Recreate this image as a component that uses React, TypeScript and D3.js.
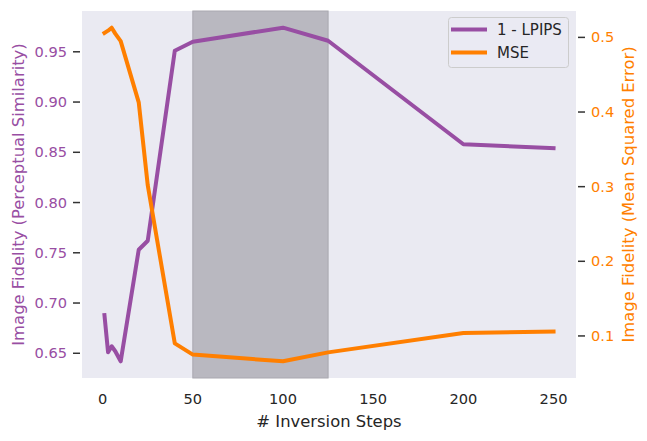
import React, { useEffect, useRef } from 'react';
import * as d3 from 'd3';

const steps = [1, 3, 5, 7, 10, 20, 25, 40, 50, 100, 125, 200, 250];
const lpips = [0.688, 0.651, 0.657, 0.652, 0.642, 0.753, 0.762, 0.951, 0.960, 0.974, 0.961, 0.858, 0.854];
const mse = [0.506, 0.509, 0.513, 0.505, 0.495, 0.413, 0.302, 0.090, 0.075, 0.066, 0.078, 0.104, 0.106];
const shadeRange = [50, 125];
const xTicks = [0, 50, 100, 150, 200, 250];
const leftTicks = [0.65, 0.70, 0.75, 0.80, 0.85, 0.90, 0.95];
const rightTicks = [0.1, 0.2, 0.3, 0.4, 0.5];
const seriesNames = ['1 - LPIPS', 'MSE'];

const PURPLE = '#984ea3';
const ORANGE = '#ff7f00';
const FONT = 'DejaVu Sans, sans-serif';

// pad an extent by 5% on each side, like matplotlib autoscale
const padded = (vals: number[]): [number, number] => {
    const [lo, hi] = d3.extent(vals) as [number, number];
    const m = (hi - lo) * 0.05;
    return [lo - m, hi + m];
};

const Chart: React.FC = () => {
    const ref = useRef<SVGSVGElement>(null);

    useEffect(() => {
        if (!ref.current) return;
        const svg = d3.select(ref.current);
        svg.selectAll('*').remove();

        const left = 82, right = 576, top = 11, bottom = 378;

        const x = d3.scaleLinear().domain(padded(steps)).range([left, right]);
        const y1 = d3.scaleLinear().domain(padded(lpips)).range([bottom, top]);
        const y2 = d3.scaleLinear().domain(padded(mse)).range([bottom, top]);

        svg.append('rect')
            .attr('x', left).attr('y', top)
            .attr('width', right - left).attr('height', bottom - top)
            .attr('fill', '#eaeaf2');

        // highlighted step range
        svg.append('rect')
            .attr('x', x(shadeRange[0]))
            .attr('y', top)
            .attr('width', x(shadeRange[1]) - x(shadeRange[0]))
            .attr('height', bottom - top)
            .attr('fill', '#b9b8c0')
            .attr('stroke', '#a9a8b0')
            .attr('stroke-width', 1);

        const line1 = d3.line<number>().x((_, i) => x(steps[i])).y(d => y1(d));
        const line2 = d3.line<number>().x((_, i) => x(steps[i])).y(d => y2(d));

        svg.append('path')
            .attr('d', line1(lpips) || '')
            .attr('fill', 'none')
            .attr('stroke', PURPLE)
            .attr('stroke-width', 4)
            .attr('stroke-linejoin', 'round')
            .attr('stroke-linecap', 'square');

        svg.append('path')
            .attr('d', line2(mse) || '')
            .attr('fill', 'none')
            .attr('stroke', ORANGE)
            .attr('stroke-width', 4)
            .attr('stroke-linejoin', 'round')
            .attr('stroke-linecap', 'square');

        // x tick labels
        svg.append('g').selectAll('text')
            .data(xTicks)
            .enter().append('text')
            .attr('x', d => x(d))
            .attr('y', 404)
            .attr('text-anchor', 'middle')
            .attr('font-family', FONT)
            .attr('font-size', 14.6)
            .attr('fill', '#262626')
            .text(d => d);

        // left axis
        const gl = svg.append('g');
        gl.selectAll('line')
            .data(leftTicks)
            .enter().append('line')
            .attr('x1', 73).attr('x2', 80)
            .attr('y1', d => y1(d)).attr('y2', d => y1(d))
            .attr('stroke', '#333').attr('stroke-width', 1.5);
        gl.selectAll('text')
            .data(leftTicks)
            .enter().append('text')
            .attr('x', 67)
            .attr('y', d => y1(d))
            .attr('dy', '0.35em')
            .attr('text-anchor', 'end')
            .attr('font-family', FONT)
            .attr('font-size', 14.6)
            .attr('fill', PURPLE)
            .text(d => d3.format('.2f')(d));

        // right axis
        const gr = svg.append('g');
        gr.selectAll('line')
            .data(rightTicks)
            .enter().append('line')
            .attr('x1', 578).attr('x2', 585)
            .attr('y1', d => y2(d)).attr('y2', d => y2(d))
            .attr('stroke', '#333').attr('stroke-width', 1.5);
        gr.selectAll('text')
            .data(rightTicks)
            .enter().append('text')
            .attr('x', 591)
            .attr('y', d => y2(d))
            .attr('dy', '0.35em')
            .attr('font-family', FONT)
            .attr('font-size', 14.6)
            .attr('fill', ORANGE)
            .text(d => d3.format('.1f')(d));

        // axis titles
        svg.append('text')
            .attr('x', (left + right) / 2)
            .attr('y', 427)
            .attr('text-anchor', 'middle')
            .attr('font-family', FONT)
            .attr('font-size', 16.4)
            .attr('fill', '#262626')
            .text('# Inversion Steps');

        svg.append('text')
            .attr('transform', `translate(24,${(top + bottom) / 2}) rotate(-90)`)
            .attr('text-anchor', 'middle')
            .attr('font-family', FONT)
            .attr('font-size', 16.4)
            .attr('fill', PURPLE)
            .text('Image Fidelity (Perceptual Similarity)');

        svg.append('text')
            .attr('transform', `translate(634,${(top + bottom) / 2}) rotate(-90)`)
            .attr('text-anchor', 'middle')
            .attr('font-family', FONT)
            .attr('font-size', 16.4)
            .attr('fill', ORANGE)
            .text('Image Fidelity (Mean Squared Error)');

        // legend
        const lg = svg.append('g');
        lg.append('rect')
            .attr('x', 448.5).attr('y', 17.5)
            .attr('width', 120).attr('height', 50)
            .attr('rx', 3)
            .attr('fill', '#eaeaf2').attr('fill-opacity', 0.8)
            .attr('stroke', '#cccccc').attr('stroke-width', 1);
        const colors = [PURPLE, ORANGE];
        seriesNames.forEach((name, i) => {
            const ly = 29.5 + i * 23;
            lg.append('line')
                .attr('x1', 453).attr('x2', 485)
                .attr('y1', ly).attr('y2', ly)
                .attr('stroke', colors[i]).attr('stroke-width', 4)
                .attr('stroke-linecap', 'square');
            lg.append('text')
                .attr('x', 497).attr('y', ly)
                .attr('dy', '0.35em')
                .attr('font-family', FONT)
                .attr('font-size', 15)
                .attr('fill', '#262626')
                .text(name);
        });
    }, []);

    return (
        <svg
            ref={ref}
            width={647}
            height={441}
            style={{ position: 'absolute', left: 0, top: 0, background: '#ffffff' }}
        />
    );
};

export default function App() {
    return <Chart />;
}
